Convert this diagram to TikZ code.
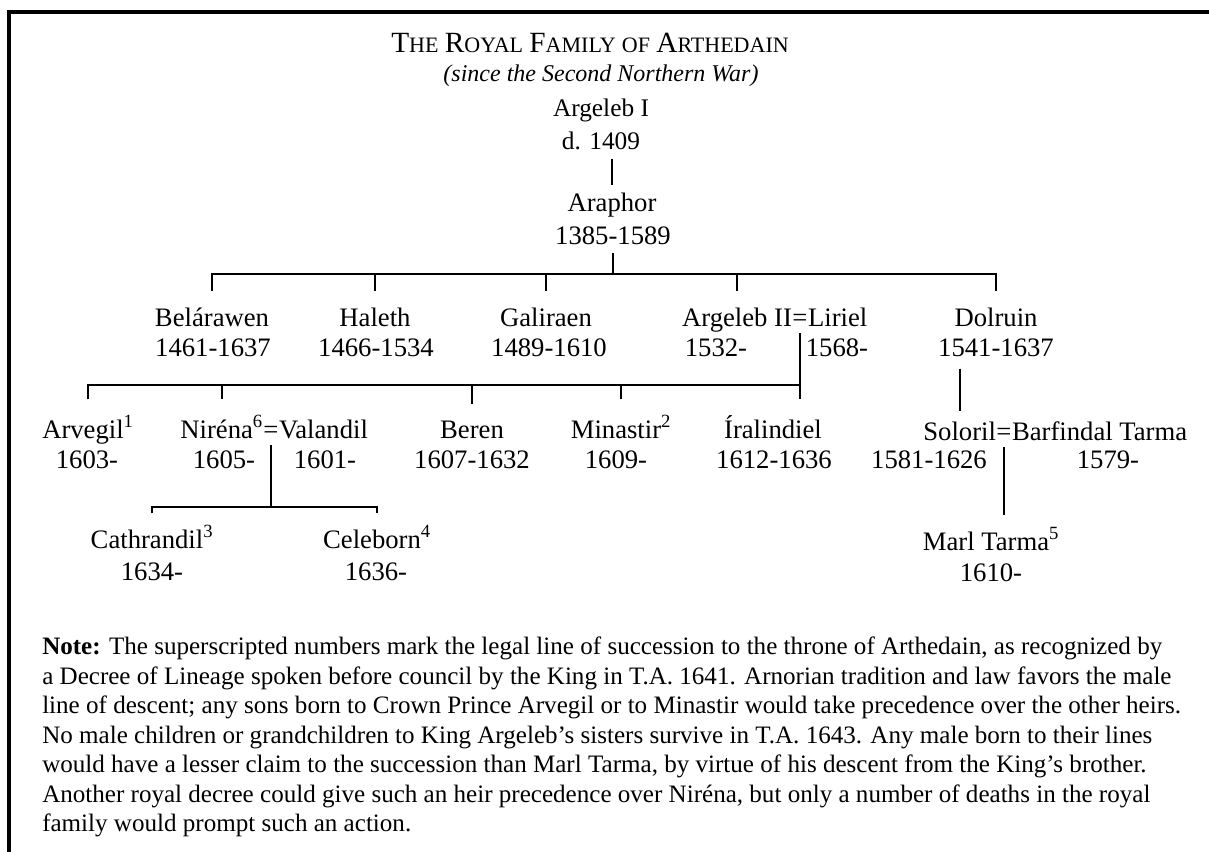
\documentclass[tikz,border=0pt]{standalone}
\usepackage{fontspec}
\setmainfont{Liberation Serif}
\usetikzlibrary{positioning,calc}
% big capital followed by small capitals
\newcommand\capsc[2]{{\fontsize{22}{24}\selectfont #1}{\fontsize{16.5}{18}\selectfont #2}}

\begin{document}
\begin{tikzpicture}[
  x=0.75pt, y=-0.75pt,
  nm/.style={font=\fontsize{20}{24}\selectfont, inner sep=0pt, anchor=base},
  hd/.style={font=\fontsize{19}{23}\selectfont, inner sep=0pt, anchor=base},
  ln/.style={line width=1.5pt},
  frame/.style={line width=2.8pt}
]
\useasboundingbox (0,0) rectangle (1209,852);
\fill[white] (0,0) rectangle (1209,852);
\draw[frame] (1209,12) -- (9,12) -- (9,852);

% heading
\node[hd] (title) at (590,53) {\capsc{T}{HE} \capsc{R}{OYAL} \capsc{F}{AMILY} \capsc{}{OF} \capsc{A}{RTHEDAIN}};
\node[hd, font=\fontsize{18}{22}\selectfont\itshape] (sub) at (601,82) {(since the Second Northern War)};

% first two generations
\node[hd] (argI) at (601,117) {Argeleb I};
\node[hd] (argId) at (601,150) {d. 1409};
\node[nm] (araphor) at (612,212) {Araphor};
\node[nm] (araphord) at (613,244) {1385-1589};

% children of Araphor
\node[nm] (belarawen) at (212,326) {Belárawen};
\node[nm] (belarawend) at (213,356) {1461-1637};
\node[nm] (haleth) at (375,326) {Haleth};
\node[nm] (halethd) at (376,356) {1466-1534};
\node[nm] (galiraen) at (546,326) {Galiraen};
\node[nm] (galiraend) at (549,356) {1489-1610};
\node[nm] (wedA) at (800,326) {=};
\node[nm, base left=0pt of wedA] (argII) {Argeleb II};
\node[nm, base right=0pt of wedA] (liriel) {Liriel};
\node[nm] (argIId) at (716,356) {1532-};
\node[nm] (lirield) at (837,356) {1568-};
\node[nm] (dolruin) at (996,326) {Dolruin};
\node[nm] (dolruind) at (996,356) {1541-1637};

% grandchildren
\node[nm] (arvegil) at (88,438) {Arvegil\textsuperscript{1}};
\node[nm] (arvegild) at (87,468) {1603-};
\node[nm] (wedB) at (271,438) {=};
\node[nm, base left=0pt of wedB] (nirena) {Niréna\textsuperscript{6}};
\node[nm, base right=0pt of wedB] (valandil) {Valandil};
\node[nm] (nirenad) at (224,468) {1605-};
\node[nm] (valandild) at (325,468) {1601-};
\node[nm] (beren) at (472,438) {Beren};
\node[nm] (berend) at (472,468) {1607-1632};
\node[nm] (minastir) at (621,438) {Minastir\textsuperscript{2}};
\node[nm] (minastird) at (616,468) {1609-};
\node[nm] (iralindiel) at (773,438) {Íralindiel};
\node[nm] (iralindield) at (774,468) {1612-1636};
\node[nm] (wedC) at (1004,440) {=};
\node[nm, base left=0pt of wedC] (soloril) {Soloril};
\node[nm, base right=0pt of wedC] (barfindal) {Barfindal Tarma};
\node[nm] (solorild) at (929,468) {1581-1626};
\node[nm] (barfindald) at (1108,468) {1579-};

% great-grandchildren
\node[nm] (cathrandil) at (152,548) {Cathrandil\textsuperscript{3}};
\node[nm] (cathrandild) at (152,580) {1634-};
\node[nm] (celeborn) at (377,548) {Celeborn\textsuperscript{4}};
\node[nm] (celebornd) at (376,580) {1636-};
\node[nm] (marl) at (991,550) {Marl Tarma\textsuperscript{5}};
\node[nm] (marld) at (991,581) {1610-};

% descent lines
\coordinate (j3) at (araphord |- 0,274);
\coordinate (j4) at (wedA |- 0,385);
\coordinate (j5) at (wedB |- 0,507);
\draw[ln, shorten <=6pt, shorten >=6pt] (argId.south -| araphor.north) -- (araphor.north);
\draw[ln, shorten <=6pt] (araphord.south) -- (j3);
\draw[ln] ($(belarawen.north)+(0,-16)$) |- (j3) -| ($(dolruin.north)+(0,-16)$);
\foreach \n in {haleth,galiraen,argII}
  \draw[ln] (\n.north |- j3) -- ($(\n.north)+(0,-16)$);

\draw[ln, shorten <=5pt] (wedA.south) -- ($(iralindiel.north -| wedA)+(0,-16)$);
\draw[ln] ($(arvegil.north)+(0,-16)$) |- (j4);
\foreach \n in {nirena,beren,minastir}
  \draw[ln] (\n.north |- j4) -- ($(\n.north)+(0,-16)$);
\draw[ln, shorten <=9pt, shorten >=8pt] (soloril.north |- dolruind.south) -- (soloril.north);

\draw[ln, shorten <=5pt] (wedB.south) -- (j5);
\draw[ln] ($(cathrandil.north)+(0,-12)$) |- (j5) -| ($(celeborn.north)+(0,-12)$);
\draw[ln, shorten <=5pt, shorten >=9pt] (wedC.south) -- (wedC.south |- marl.north);

% note under the tree
\node[font=\fontsize{18.8}{22.1}\selectfont, align=left, inner sep=0pt, anchor=north west] (note) at (42,637)
  {\textbf{Note:} The superscripted numbers mark the legal line of succession to the throne of Arthedain, as recognized by\\
   a Decree of Lineage spoken before council by the King in T.A. 1641. Arnorian tradition and law favors the male\\
   line of descent; any sons born to Crown Prince Arvegil or to Minastir would take precedence over the other heirs.\\
   No male children or grandchildren to King Argeleb's sisters survive in T.A. 1643. Any male born to their lines\\
   would have a lesser claim to the succession than Marl Tarma, by virtue of his descent from the King's brother.\\
   Another royal decree could give such an heir precedence over Niréna, but only a number of deaths in the royal\\
   family would prompt such an action.};
\end{tikzpicture}
\end{document}
